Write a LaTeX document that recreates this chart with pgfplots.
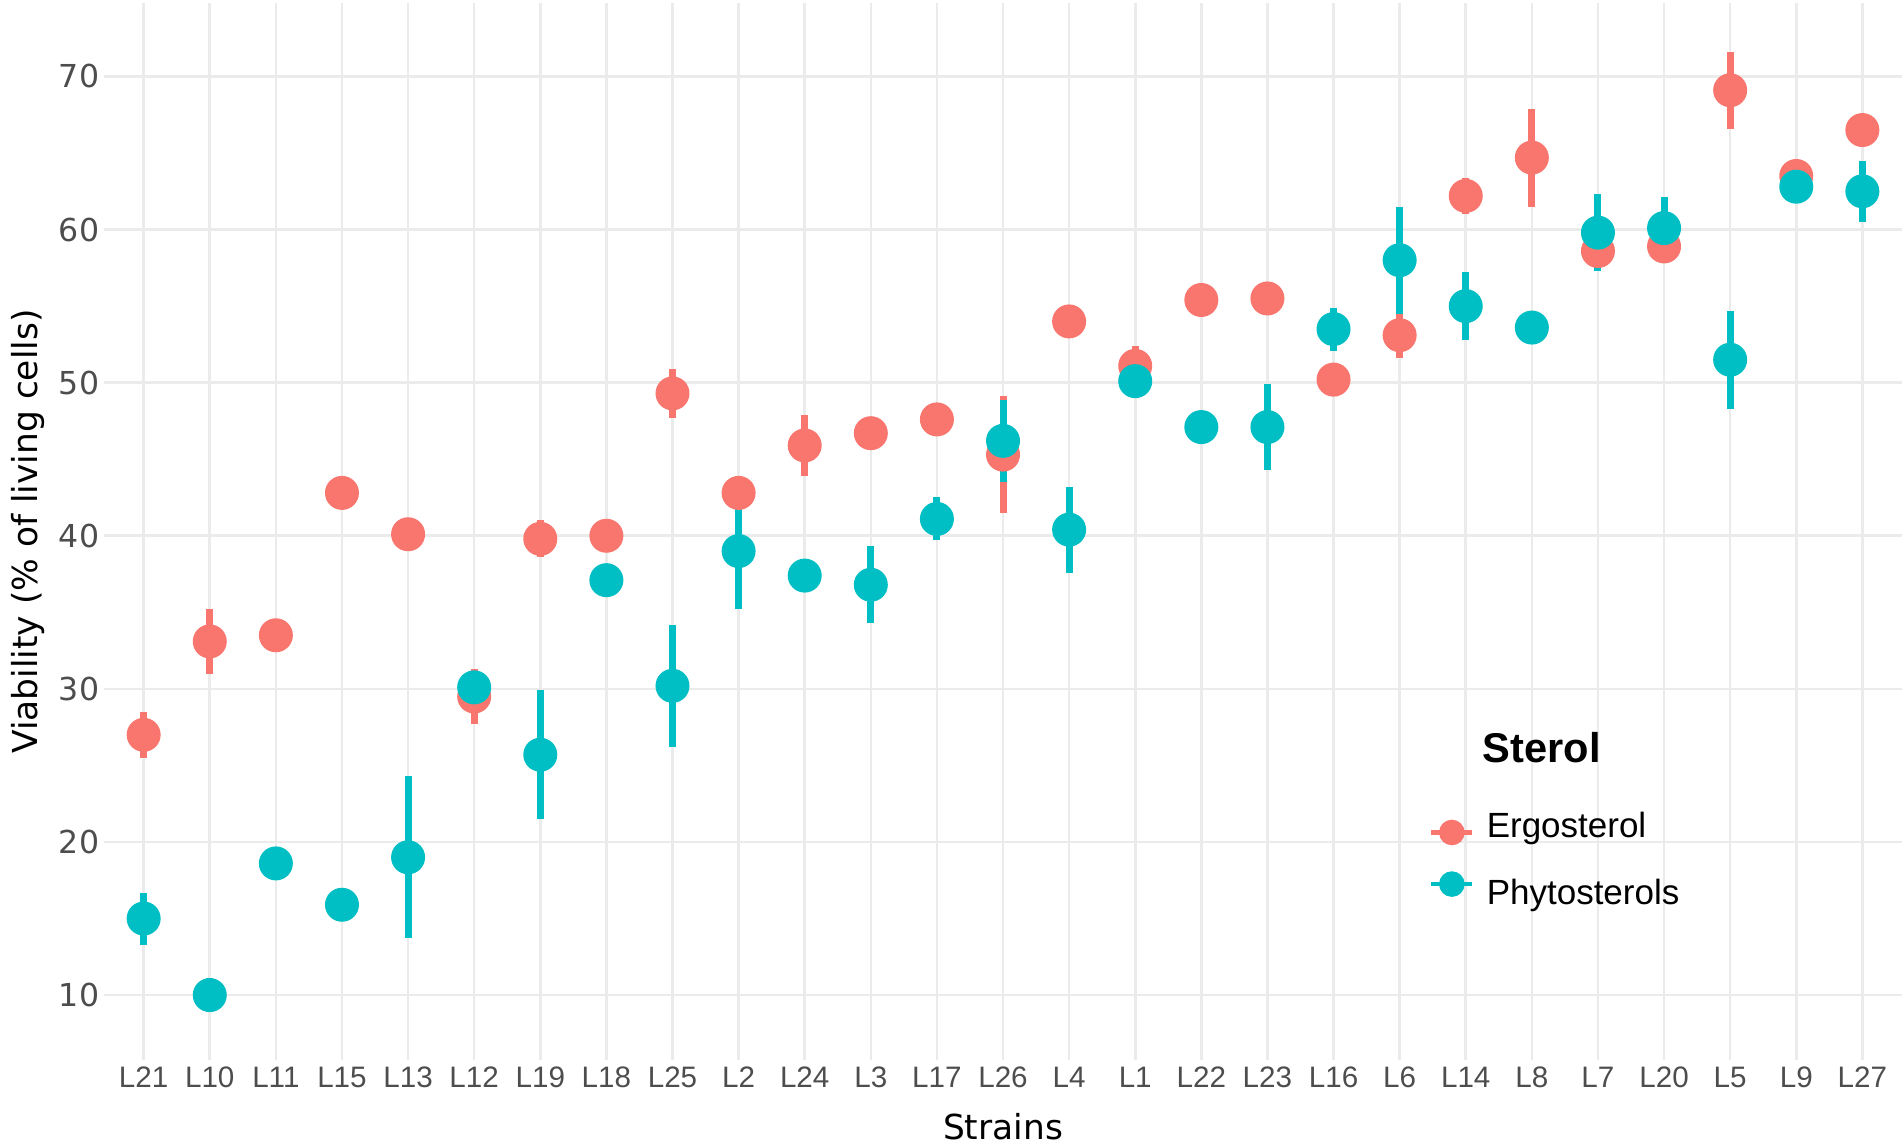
\documentclass[border=0pt]{standalone}
\usepackage{pgfplots}
\usepackage{pgfplotstable}
\pgfplotsset{compat=1.18}
\usepackage{fontspec}
\setmainfont{DejaVu Sans}
\newfontfamily\arial{Liberation Sans}
\definecolor{ergo}{HTML}{F8766D}
\definecolor{phyto}{HTML}{00BFC4}
\definecolor{gridc}{HTML}{EBEBEB}
\definecolor{tickc}{HTML}{4D4D4D}

\pgfplotstableread{
x  e     ee   p     pe
0  27.0  1.5  15.0  1.7
1  33.1  2.1  10.0  1.1
2  33.5  0.5  18.6  0.5
3  42.8  0.4  15.9  0.5
4  40.1  0.4  19.0  5.3
5  29.5  1.8  30.1  1.1
6  39.8  1.2  25.7  4.2
7  40.0  0.4  37.1  0.5
8  49.3  1.6  30.2  4.0
9  42.8  0.5  39.0  3.8
10 45.9  2.0  37.4  0.5
11 46.7  0.5  36.8  2.5
12 47.6  0.5  41.1  1.4
13 45.3  3.8  46.2  2.7
14 54.0  0.5  40.4  2.8
15 51.1  1.3  50.1  0.5
16 55.4  0.5  47.1  0.5
17 55.5  0.5  47.1  2.8
18 50.2  0.5  53.5  1.4
19 53.1  1.5  58.0  3.5
20 62.2  1.2  55.0  2.2
21 64.7  3.2  53.6  0.5
22 58.6  0.9  59.8  2.5
23 58.9  1.1  60.1  2.0
24 69.1  2.5  51.5  3.2
25 63.5  0.5  62.8  0.5
26 66.5  0.5  62.5  2.0
}\data

\begin{document}
\begin{tikzpicture}
\path[use as bounding box] (0pt,0pt) rectangle (475.5pt,285.75pt);
\begin{axis}[
  at={(26pt,20.75pt)}, anchor=south west,
  scale only axis, width=449.5pt, height=264.25pt,
  xmin=-0.6, xmax=26.6, ymin=5.76, ymax=74.8,
  axis line style={draw=none}, tick style={draw=none},
  major tick length=0pt,
  grid=major, grid style={gridc, line width=0.65pt},
  xtick={0,...,26},
  xticklabels={L21,L10,L11,L15,L13,L12,L19,L18,L25,L2,L24,L3,L17,L26,L4,L1,L22,L23,L16,L6,L14,L8,L7,L20,L5,L9,L27},
  ytick={10,20,30,40,50,60,70},
  /pgf/number format/assume math mode=true,
  yticklabel style={font=\fontsize{7.9}{9}\selectfont, color=tickc, anchor=east, inner sep=0pt, xshift=-1pt},
  xticklabel style={font=\arial\fontsize{7.4}{9}\selectfont, color=tickc, anchor=north, inner sep=0pt, yshift=-1.5pt},
  xlabel={Strains},
  xlabel style={at={(axis description cs:0.5,-0.07569)}, anchor=base, inner sep=0pt, font=\fontsize{8.6}{10}\selectfont},
  ylabel={Viability (\% of living cells)},
  ylabel style={at={(axis description cs:-0.03671,0.5)}, anchor=base, inner sep=0pt, font=\fontsize{8.6}{10}\selectfont},
  legend style={at={(axis description cs:0.7369,0.2348)}, anchor=north west, draw=none, fill=none,
    inner sep=0pt, outer sep=0pt, row sep=6.5pt, column sep=3pt,
    font=\arial\fontsize{8.75}{10}\selectfont, nodes={inner sep=0pt}},
  legend cell align=left,
]
\addplot[ergo, only marks, mark=*, mark size=4.05pt, mark options={draw=ergo, fill=ergo, line width=0.4pt},
  legend image code/.code={%
    \draw[ergo, line width=1.2pt] (0pt,-1.25pt) -- (10.25pt,-1.25pt);
    \fill[ergo] (5.125pt,-1.25pt) circle (3pt);},
  error bars/.cd, y dir=both, y explicit, error mark=none,
  error bar style={line width=1.75pt, ergo}]
  table[x=x, y=e, y error=ee] {\data};
\addlegendentry{Ergosterol}
\addplot[phyto, only marks, mark=*, mark size=4.05pt, mark options={draw=phyto, fill=phyto, line width=0.4pt},
  legend image code/.code={%
    \draw[phyto, line width=1.2pt] (0pt,2.75pt) -- (10.25pt,2.75pt);
    \fill[phyto] (5.125pt,2.75pt) circle (3pt);},
  error bars/.cd, y dir=both, y explicit, error mark=none,
  error bar style={line width=1.75pt, phyto}]
  table[x=x, y=p, y error=pe] {\data};
\addlegendentry{Phytosterols}
\end{axis}
\node[anchor=base west, inner sep=0pt, font=\arial\bfseries\fontsize{10.4}{12}\selectfont] at (370.5pt,95pt) {Sterol};
\end{tikzpicture}
\end{document}
